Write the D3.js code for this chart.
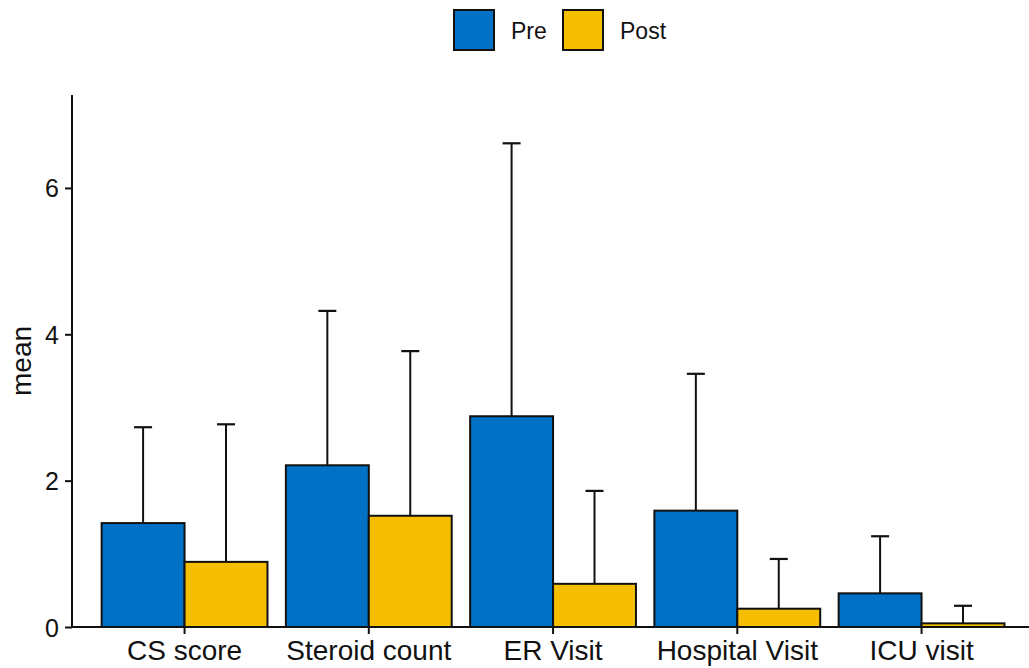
<!DOCTYPE html>
<html>
<head>
<meta charset="utf-8">
<script src="https://cdn.jsdelivr.net/npm/d3@7"></script>
<style>
  body { margin: 0; background: #fff; }
  text { font-family: "Liberation Sans", Arial, sans-serif; fill: #111; }
</style>
</head>
<body>
<div id="main"></div>
<script>
var categories = ["CS score", "Steroid count", "ER Visit", "Hospital Visit", "ICU visit"];
var groups = ["Pre", "Post"];
var preMean = [1.42, 2.21, 2.88, 1.59, 0.46];
var preUpper = [2.73, 4.32, 6.61, 3.46, 1.24];
var postMean = [0.89, 1.52, 0.59, 0.25, 0.05];
var postUpper = [2.77, 3.77, 1.86, 0.93, 0.29];
var yTicks = [0, 2, 4, 6];
var colors = { Pre: "#0071c5", Post: "#f5bf00" };

var width = 1029, height = 668;
var svg = d3.select("#main").append("svg")
  .attr("width", width).attr("height", height);

var plotLeft = 72, plotBottom = 627, plotTop = 95;

var x = d3.scaleBand().domain(categories)
  .range([plotLeft + 2, plotLeft + 2 + 5.2 * 184.25])
  .paddingInner(0.1).paddingOuter(0.15);
var xg = d3.scaleBand().domain(groups).range([0, x.bandwidth()]);
var y = d3.scaleLinear().domain([0, 7.27]).range([plotBottom, plotTop]);

var rows = [];
categories.forEach(function (c, i) {
  rows.push({ cat: c, grp: "Pre", mean: preMean[i], upper: preUpper[i] });
  rows.push({ cat: c, grp: "Post", mean: postMean[i], upper: postUpper[i] });
});

// error bars first, the bars cover their lower half
var err = svg.append("g");
rows.forEach(function (d) {
  var cx = x(d.cat) + xg(d.grp) + xg.bandwidth() / 2;
  err.append("line")
    .attr("x1", cx).attr("x2", cx)
    .attr("y1", y(d.mean)).attr("y2", y(d.upper))
    .attr("stroke", "#111").attr("stroke-width", 2);
  err.append("line")
    .attr("x1", cx - 9).attr("x2", cx + 9)
    .attr("y1", y(d.upper)).attr("y2", y(d.upper))
    .attr("stroke", "#111").attr("stroke-width", 2.2);
});

svg.append("g").selectAll("rect")
  .data(rows).enter().append("rect")
  .attr("x", function (d) { return x(d.cat) + xg(d.grp); })
  .attr("y", function (d) { return y(d.mean); })
  .attr("width", xg.bandwidth())
  .attr("height", function (d) { return plotBottom - y(d.mean); })
  .attr("fill", function (d) { return colors[d.grp]; })
  .attr("stroke", "#111").attr("stroke-width", 2);

// axes
var yAxis = svg.append("g").attr("transform", "translate(" + plotLeft + ",0)")
  .call(d3.axisLeft(y).tickValues(yTicks).tickSize(7).tickPadding(6).tickFormat(d3.format("d")));
yAxis.select(".domain").remove();
yAxis.append("line").attr("x1", 0).attr("x2", 0).attr("y1", plotTop).attr("y2", plotBottom + 1)
  .attr("stroke", "#111").attr("stroke-width", 2);
yAxis.selectAll(".tick line").attr("stroke", "#111").attr("stroke-width", 2);
yAxis.selectAll(".tick text").style("font-size", "25px").attr("dy", "0.36em").style("fill", "#111");

var xAxis = svg.append("g").attr("transform", "translate(0," + plotBottom + ")")
  .call(d3.axisBottom(x).tickSize(7).tickPadding(5));
xAxis.select(".domain").remove();
xAxis.append("line").attr("x1", plotLeft - 1).attr("x2", width).attr("y1", 0).attr("y2", 0)
  .attr("stroke", "#111").attr("stroke-width", 2);
xAxis.selectAll(".tick line").attr("stroke", "#111").attr("stroke-width", 2);
xAxis.selectAll(".tick text").style("font-size", "28px").style("fill", "#111").attr("dy", "0.76em");

svg.append("text")
  .attr("transform", "translate(31," + (plotBottom + plotTop) / 2 + ") rotate(-90)")
  .attr("text-anchor", "middle")
  .style("font-size", "28px")
  .text("mean");

// legend
var legend = svg.append("g");
var legendX = [454, 563];
groups.forEach(function (g, i) {
  legend.append("rect")
    .attr("x", legendX[i]).attr("y", 10)
    .attr("width", 40).attr("height", 40)
    .attr("fill", colors[g]).attr("stroke", "#111").attr("stroke-width", 2);
  legend.append("text")
    .attr("x", legendX[i] + 57).attr("y", 31).attr("dy", "0.35em")
    .style("font-size", "23px")
    .text(g);
});
</script>
</body>
</html>
